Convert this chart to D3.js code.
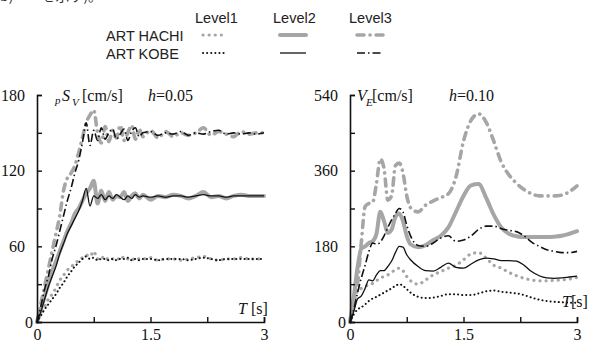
<!DOCTYPE html>
<html><head><meta charset="utf-8">
<script src="https://cdn.jsdelivr.net/npm/d3@7"></script>
<style>body{margin:0;background:#fff;} svg{display:block}</style>
</head><body>
<svg id="c" width="589" height="347"></svg>
<script>
// ---------- data ----------
const tL = [0,0.05,0.1,0.15,0.2,0.25,0.3,0.35,0.4,0.45,0.5,0.55,0.6,0.65,0.7,0.75,0.8,0.85,0.9,0.95,1.0,1.05,1.1,1.15,1.2,1.25,1.3,1.35,1.4,1.5,1.6,1.7,1.8,1.9,2.0,2.1,2.2,2.3,2.4,2.5,2.6,2.7,2.8,2.9,3.0];
const psHachi1 = [0,6,12,18,22,27,33,37,41,44,46,49,51,53,52,56,50,52,49,51,50,51,49,52,50,49,51,50,50,51,49,50,50,49,50,51,52,50,49,50,50,51,50,50,50];
const psHachi2 = [0,10,20,30,40,48,56,64,72,78,86,90,96,102,106,112,94,104,96,103,97,100,99,103,96,100,102,98,101,97,100,99,101,100,98,100,103,99,100,98,100,101,100,100,100];
const psHachi3 = [0,14,28,42,56,70,84,104,114,118,124,134,146,158,164,168,150,142,155,143,152,146,156,144,150,156,145,153,147,152,146,151,147,150,148,150,154,148,151,149,147,151,149,150,150];
const psKobe1 = [0,5,10,14,18,22,27,31,36,40,44,47,50,52,50,51,49,50,50,49,50,49,50,50,51,49,50,49,50,50,49,50,50,50,49,50,51,50,49,50,50,50,50,50,50];
const psKobe2 = [0,8,18,28,36,44,54,62,70,76,82,88,96,106,92,100,98,101,97,100,98,101,99,97,100,98,101,99,100,99,100,99,100,100,99,100,101,100,100,99,100,100,100,100,100];
const psKobe3 = [0,12,26,36,50,60,72,84,96,106,118,128,142,158,140,152,144,154,145,150,153,145,149,153,144,151,154,147,150,151,148,150,149,151,148,150,149,151,152,149,150,149,150,149,150];

const tR = [0,0.05,0.1,0.15,0.2,0.25,0.3,0.35,0.4,0.45,0.5,0.55,0.6,0.65,0.7,0.75,0.8,0.9,1.0,1.1,1.2,1.3,1.4,1.5,1.6,1.7,1.8,1.9,2.0,2.1,2.2,2.3,2.4,2.5,2.6,2.7,2.8,2.9,3.0];
const veHachi1 = [0,40,75,80,85,88,92,98,105,108,112,118,125,128,122,108,98,90,100,112,120,128,135,148,162,165,152,135,128,118,110,104,100,98,98,99,100,102,106];
const veHachi2 = [0,60,130,175,180,188,192,210,262,240,212,220,250,258,240,205,185,178,183,195,205,225,262,300,325,328,295,255,225,210,204,202,202,202,202,203,205,210,216];
const veHachi3 = [0,55,92,190,275,282,285,330,388,365,290,300,372,378,355,300,272,262,278,288,296,305,345,430,480,495,475,430,380,350,330,315,305,300,300,300,302,310,324];
const veKobe1 = [0,18,30,35,42,50,56,60,65,70,75,80,86,90,86,78,70,60,57,58,62,66,66,64,64,68,73,75,72,70,68,64,58,53,50,48,47,46,46];
const veKobe2 = [0,25,55,62,80,100,98,112,122,122,132,145,165,180,178,160,148,132,122,121,130,140,130,128,138,148,152,150,146,146,145,135,120,110,105,104,105,107,109];
const veKobe3 = [0,30,70,105,135,168,188,185,190,205,225,243,258,270,262,230,205,182,180,188,200,205,192,195,205,220,228,228,222,218,215,205,190,180,172,168,165,165,168];

const levels = ["Level1","Level2","Level3"];
const records = ["ART HACHI","ART KOBE"];
const tTicks = [0,0.75,1.5,2.25,3];
const tLabels = [0,1.5,3];
const psTicks = [0,30,60,90,120,150,180];
const psLabels = [0,60,120,180];
const veTicks = [0,90,180,270,360,450,540];
const veLabels = [0,180,360,540];

// ---------- styles ----------
const GRAY = "#a6a6a6", BLACK = "#111";
const recStyle = {
  "ART HACHI": {color: GRAY, width: [3.2,4,3.6], dash: ["0.1,6","none","7,6,0.1,6"], cap: ["round","round","round"]},
  "ART KOBE":  {color: BLACK, width: [2,1.3,1.6], dash: ["0.1,4","none","8,3,1.5,3"], cap: ["round","butt","butt"]}
};
const SERIF = '"Liberation Serif"';
const SANS = '"Liberation Sans"';

const svg = d3.select("#c");

// caption at the top edge (only its lower part lies inside the picture, as in the source)
svg.append("text").attr("x",0).attr("y",1).style("font-family",'"Noto Sans CJK JP"')
  .attr("font-size",14).attr("fill","#333").text("b)　　を示す)。");

// ---------- legend ----------
const legX = [195,273,349], sampX = [[203,225],[280,306],[357,383]];
levels.forEach((l,i)=>{
  svg.append("text").attr("x",legX[i]).attr("y",23).style("font-family",SANS).attr("font-size",14.5)
    .attr("fill","#222").text(l);
});
records.forEach((r,j)=>{
  const yy = [35,53][j];
  svg.append("text").attr("x",106).attr("y",yy+6).style("font-family",SANS).attr("font-size",14.5)
    .attr("fill","#222").text(r);
  levels.forEach((l,i)=>{
    const st = recStyle[r];
    svg.append("line").attr("x1",sampX[i][0]).attr("x2",sampX[i][1]).attr("y1",yy).attr("y2",yy)
      .attr("stroke",st.color).attr("stroke-width",st.width[i])
      .attr("stroke-dasharray",st.dash[i]==="none"?null:st.dash[i]).attr("stroke-linecap",st.cap[i]);
  });
});

// ---------- panels ----------
function panel(x0, x1, yMax, yTicks, yLabels, ts, series) {
  const x = d3.scaleLinear().domain([0,3]).range([x0,x1]);
  const y = d3.scaleLinear().domain([0,yMax]).range([322,95]);
  const g = svg.append("g");
  const line = d3.line().x((d,i)=>x(ts[i])).y(d=>y(d)).curve(d3.curveMonotoneX);
  series.forEach(s=>{
    const st = recStyle[s.rec];
    g.append("path").datum(s.vals).attr("d",line).attr("fill","none")
      .attr("stroke",st.color).attr("stroke-width",st.width[s.lev])
      .attr("stroke-dasharray",st.dash[s.lev]==="none"?null:st.dash[s.lev])
      .attr("stroke-linecap",st.cap[s.lev]).attr("stroke-linejoin","round");
  });
  const ya = g.append("g").attr("transform",`translate(${x0},0)`)
    .call(d3.axisLeft(y).tickValues(yTicks).tickSize(-5).tickPadding(12)
      .tickFormat(d=>yLabels.includes(d)?d:""));
  ya.selectAll("text").filter(d=>d===0).attr("x",-4);
  const xa = g.append("g").attr("transform","translate(0,322)")
    .call(d3.axisBottom(x).tickValues(tTicks).tickSize(-5).tickPadding(7)
      .tickFormat(d=>tLabels.includes(d)?d:""));
  [ya,xa].forEach(a=>{
    a.select(".domain").attr("stroke","#111").attr("stroke-width",1.6);
    a.selectAll(".tick line").attr("stroke","#111").attr("stroke-width",1.4);
    a.selectAll("text").style("font-family",SERIF).attr("font-size",16).attr("fill","#111");
  });
}

panel(37,264,180,psTicks,psLabels,tL,[
  {rec:"ART HACHI",lev:0,vals:psHachi1},{rec:"ART HACHI",lev:1,vals:psHachi2},{rec:"ART HACHI",lev:2,vals:psHachi3},
  {rec:"ART KOBE",lev:0,vals:psKobe1},{rec:"ART KOBE",lev:1,vals:psKobe2},{rec:"ART KOBE",lev:2,vals:psKobe3}]);
panel(350,577,540,veTicks,veLabels,tR,[
  {rec:"ART HACHI",lev:0,vals:veHachi1},{rec:"ART HACHI",lev:1,vals:veHachi2},{rec:"ART HACHI",lev:2,vals:veHachi3},
  {rec:"ART KOBE",lev:0,vals:veKobe1},{rec:"ART KOBE",lev:1,vals:veKobe2},{rec:"ART KOBE",lev:2,vals:veKobe3}]);

// ---------- titles ----------
function t(x,y,size,style,txt){
  return svg.append("text").style("font-family",SERIF).attr("x",x).attr("y",y).attr("font-size",size)
    .attr("font-style",style).attr("fill","#111").text(txt);
}
t(55,104,11,"italic","p");
t(62,101,16,"italic","S");
t(72,106,11,"italic","V");
t(82,101,16,"normal","[cm/s]");
const h1 = t(148,101,16,"italic","h"); h1.append("tspan").attr("font-style","normal").text("=0.05");
t(357,101,16,"italic","V");
t(366,106,11,"italic","E");
t(372,101,16,"normal","[cm/s]");
const h2 = t(449,101,16,"italic","h"); h2.append("tspan").attr("font-style","normal").text("=0.10");
const tl1 = t(238,314,16,"italic","T"); tl1.append("tspan").attr("font-style","normal").text(" [s]");
const tl2 = t(562,307,16,"italic","T"); tl2.append("tspan").attr("font-style","normal").text("[s]");
</script>
</body></html>
